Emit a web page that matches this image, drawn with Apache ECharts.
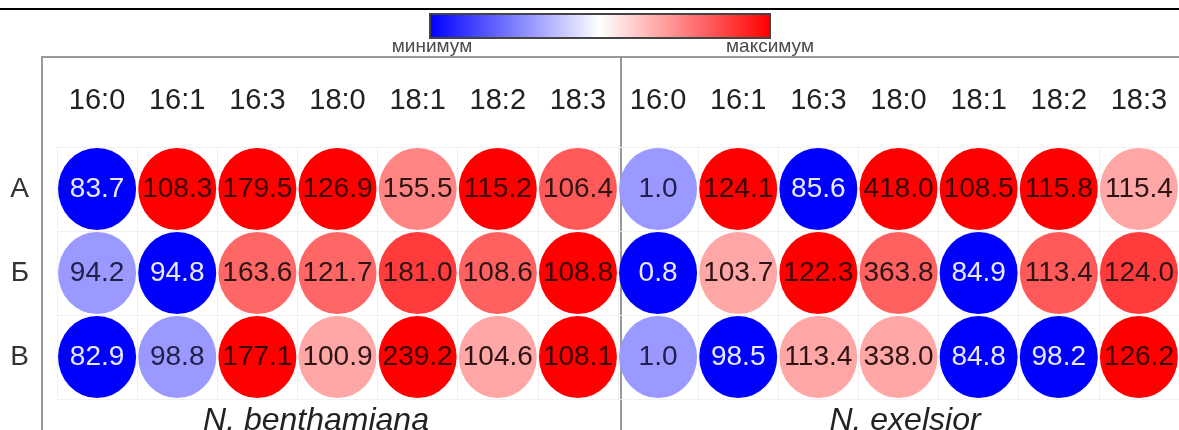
<!DOCTYPE html>
<html>
<head>
<meta charset="utf-8">
<script src="https://cdn.jsdelivr.net/npm/echarts@6/dist/echarts.min.js"></script>
<style>
  html, body { margin: 0; padding: 0; background: #fff; }
  #chart { width: 1179px; height: 430px; }
</style>
</head>
<body>
<div id="chart"></div>
<script>
// fatty acid columns, two species side by side
const columns = ['16:0', '16:1', '16:3', '18:0', '18:1', '18:2', '18:3',
                 '16:0', '16:1', '16:3', '18:0', '18:1', '18:2', '18:3'];
const rows = ['А', 'Б', 'В'];
const species = ['N. benthamiana', 'N. exelsior'];

const valuesA = [83.7, 108.3, 179.5, 126.9, 155.5, 115.2, 106.4, 1.0, 124.1, 85.6, 418.0, 108.5, 115.8, 115.4];
const valuesB = [94.2, 94.8, 163.6, 121.7, 181.0, 108.6, 108.8, 0.8, 103.7, 122.3, 363.8, 84.9, 113.4, 124.0];
const valuesV = [82.9, 98.8, 177.1, 100.9, 239.2, 104.6, 108.1, 1.0, 98.5, 113.4, 338.0, 84.8, 98.2, 126.2];

// colour position of each circle on the min..max scale (-1 = минимум, 1 = максимум)
const shadeA = [-1, 1, 1, 1, 0.48, 1, 0.65, -0.4, 1, -1, 1, 1, 1, 0.35];
const shadeB = [-0.4, -1, 0.6, 0.6, 0.77, 0.62, 1, -1, 0.35, 1, 0.62, -1, 0.65, 0.77];
const shadeV = [-1, -0.4, 1, 0.35, 1, 0.35, 1, -0.4, -1, 0.35, 0.35, -1, -1, 1];

const legendText = ['минимум', 'максимум'];

const allValues = [valuesA, valuesB, valuesV];
const allShades = [shadeA, shadeB, shadeV];

function textColor(s) {
  if (s <= -0.9) return '#e8e8ff';
  if (s < 0) return '#20204a';
  if (s >= 0.9) return '#3c0000';
  return '#2e1414';
}

const cells = [];
allValues.forEach((vals, r) => {
  vals.forEach((v, c) => {
    const s = allShades[r][c];
    cells.push({ value: [c, r, v, s], label: { color: textColor(s) } });
  });
});

const chart = echarts.init(document.getElementById('chart'));
const FONT = '"Liberation Sans", Arial, sans-serif';

chart.setOption({
  animation: false,
  textStyle: { fontFamily: FONT },
  title: [
    { text: species[0], left: 311, top: 400, textAlign: 'center',
      textStyle: { fontSize: 32, fontStyle: 'italic', fontWeight: 'normal', color: '#222', fontFamily: FONT } },
    { text: species[1], left: 900, top: 400, textAlign: 'center',
      textStyle: { fontSize: 32, fontStyle: 'italic', fontWeight: 'normal', color: '#222', fontFamily: FONT } }
  ],
  grid: { left: 57, top: 147, width: 1124, height: 252 },
  xAxis: {
    type: 'category',
    position: 'top',
    data: columns,
    axisLine: { show: false },
    axisTick: { show: false },
    axisLabel: { fontSize: 29, color: '#222', margin: 32, interval: 0 },
    splitLine: { show: true, lineStyle: { color: '#f0f0f0', width: 1 } }
  },
  yAxis: {
    type: 'category',
    inverse: true,
    data: rows,
    axisLine: { show: false },
    axisTick: { show: false },
    axisLabel: { fontSize: 28, color: '#333', margin: 28 },
    splitLine: { show: true, lineStyle: { color: '#f0f0f0', width: 1 } }
  },
  visualMap: {
    type: 'continuous',
    min: -1,
    max: 1,
    dimension: 3,
    orient: 'horizontal',
    left: 415,
    top: -1,
    itemWidth: 24,
    itemHeight: 340,
    text: null,
    calculable: false,
    hoverLink: false,
    inRange: { color: ['#0000ff', '#ffffff', '#ff0000'] }
  },
  graphic: [
    { type: 'line', shape: { x1: 0, y1: 9, x2: 1179, y2: 9 }, style: { stroke: '#000', lineWidth: 2 } },
    { type: 'rect', shape: { x: 430, y: 14, width: 340, height: 24 }, style: { fill: null, stroke: '#444', lineWidth: 2 }, z: 100 },
    { type: 'text', style: { text: legendText[0], x: 432, y: 47, align: 'center', verticalAlign: 'middle', font: '19px ' + FONT, fill: '#4a4a4a' } },
    { type: 'text', style: { text: legendText[1], x: 770, y: 47, align: 'center', verticalAlign: 'middle', font: '19px ' + FONT, fill: '#4a4a4a' } },
    { type: 'polyline', shape: { points: [[42, 432], [42, 57], [1181, 57]] }, style: { fill: null, stroke: '#999', lineWidth: 2 } },
    { type: 'line', shape: { x1: 621, y1: 57, x2: 621, y2: 432 }, style: { stroke: '#777', lineWidth: 1.5 } }
  ],
  series: [{
    type: 'scatter',
    symbol: 'circle',
    symbolSize: [78, 82],
    itemStyle: { opacity: 1 },
    data: cells,
    label: {
      show: true,
      position: 'inside',
      fontSize: 28,
      formatter: p => p.value[2].toFixed(1)
    },
    emphasis: { disabled: true }
  }]
});

window.addEventListener('resize', () => chart.resize());
</script>
</body>
</html>
